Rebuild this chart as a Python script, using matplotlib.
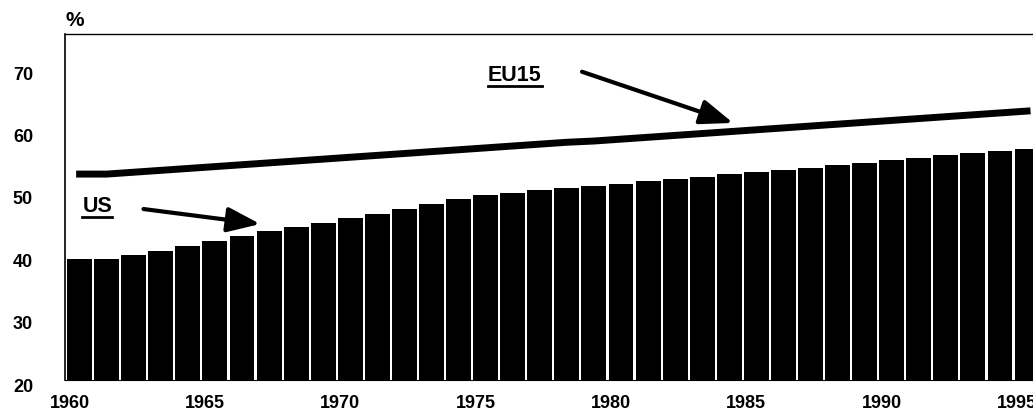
import matplotlib
matplotlib.use('Agg')
import matplotlib.pyplot as plt
import matplotlib.transforms as mtransforms
from matplotlib.lines import Line2D

plt.rcParams['font.family'] = ['Liberation Sans', 'DejaVu Sans']
plt.rcParams['font.weight'] = 'bold'

# data
years = list(range(1960, 1996))
us = [39.4, 39.4, 40.0, 40.7, 41.4, 42.2, 43.0, 43.8, 44.5, 45.2,
      45.9, 46.6, 47.4, 48.2, 49.0, 49.6, 50.0, 50.4, 50.7, 51.1,
      51.4, 51.9, 52.2, 52.6, 53.0, 53.4, 53.7, 54.0, 54.4, 54.8,
      55.3, 55.6, 56.0, 56.3, 56.7, 57.0]
eu15 = [53.0, 53.0, 53.3, 53.6, 53.9, 54.2, 54.5, 54.8, 55.1, 55.4,
        55.7, 56.0, 56.3, 56.6, 56.9, 57.2, 57.5, 57.8, 58.1, 58.3,
        58.6, 58.9, 59.2, 59.5, 59.8, 60.1, 60.4, 60.7, 61.0, 61.3,
        61.6, 61.9, 62.2, 62.5, 62.8, 63.1]
xticks = [1960, 1965, 1970, 1975, 1980, 1985, 1990, 1995]
yticks = [20, 30, 40, 50, 60, 70]

fig = plt.figure(figsize=(10.33, 4.14), dpi=100)
ax = fig.add_axes([0.0629, 0.0797, 0.9371, 0.8365])

ax.bar(years, us, width=0.92, bottom=0, color='black', zorder=2)
ax.plot(years, eu15, color='black', lw=5, solid_capstyle='projecting', zorder=3)

ax.set_xlim(1959.46, 1995.22)
ax.set_ylim(20, 75.5)
ax.set_xticks(xticks)
ax.set_yticks(yticks)
ax.tick_params(length=0)
ax.tick_params(axis='y', pad=23, labelsize=13)
ax.tick_params(axis='x', pad=10, labelsize=13)

# labels sit a little off their ticks in the original
dx = mtransforms.ScaledTranslation(-10 / 100, 0, fig.dpi_scale_trans)
for lab in ax.get_xticklabels():
    lab.set_transform(lab.get_transform() + dx)
    lab.set_fontweight('bold')
dy = mtransforms.ScaledTranslation(0, -4 / 100, fig.dpi_scale_trans)
for lab in ax.get_yticklabels():
    lab.set_transform(lab.get_transform() + dy)
    lab.set_fontweight('bold')

ax.spines['right'].set_visible(False)
ax.spines['top'].set_linewidth(1.0)
ax.spines['left'].set_linewidth(1.2)
ax.spines['bottom'].set_linewidth(0.8)

fig.text(75 / 1033, 1 - 21 / 414, '%', ha='center', va='center',
         fontsize=15, fontweight='bold')

# labels with arrows
arrow = dict(arrowstyle='-|>,head_length=1.0,head_width=0.38', lw=3,
             color='black', mutation_scale=20, shrinkA=0, shrinkB=0)
ax.annotate('', xy=(1966.67, 45.0), xytext=(1962.36, 47.4),
            arrowprops=arrow, zorder=4)
ax.annotate('', xy=(1984.14, 61.2), xytext=(1978.56, 69.4),
            arrowprops=arrow, zorder=4)

t_us = ax.text(1960.65, 48.0, 'US', ha='center', va='center',
               fontsize=15.5, fontweight='bold')
t_eu = ax.text(1976.08, 69.0, 'EU15', ha='center', va='center',
               fontsize=15.5, fontweight='bold')

# underline the two labels
fig.canvas.draw()
r = fig.canvas.get_renderer()
for t in (t_us, t_eu):
    bb = t.get_window_extent(r)
    y = bb.y0 - 1
    fig.add_artist(Line2D([bb.x0 / fig.bbox.width, bb.x1 / fig.bbox.width],
                          [y / fig.bbox.height, y / fig.bbox.height],
                          transform=fig.transFigure, color='black', lw=2))

fig.savefig('out.png', dpi=100)
